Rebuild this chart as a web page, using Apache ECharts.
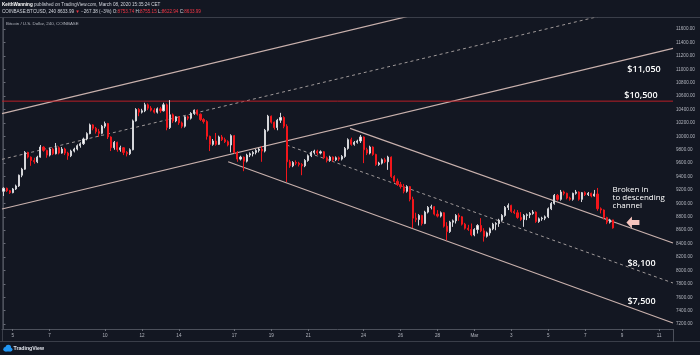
<!DOCTYPE html>
<html><head><meta charset="utf-8">
<script src="https://cdn.jsdelivr.net/npm/echarts@6/dist/echarts.min.js"></script>
<style>html,body{margin:0;padding:0;background:#131722;}#c{width:700px;height:355px;}</style>
</head><body><div id="c"></div>
<script>
// 4h candles, index 0 = Feb 4 12:00 ... index 198 = Mar 8 12:00. Rows: [open, close, low, high]
const ohlc = [
[9180,9225,9110,9240],[9225,9190,9170,9235],[9190,9160,9140,9200],
[9160,9215,9150,9230],[9215,9260,9200,9280],[9260,9420,9245,9430],[9420,9510,9390,9530],[9510,9760,9500,9780],[9760,9690,9670,9770],
[9690,9640,9560,9700],[9640,9620,9590,9680],[9620,9690,9600,9710],[9690,9840,9680,9870],[9840,9790,9770,9850],[9790,9720,9680,9800],
[9720,9810,9700,9830],[9810,9740,9720,9830],[9740,9830,9730,9900],[9830,9750,9730,9850],[9750,9810,9740,9840],[9810,9750,9720,9830],
[9750,9710,9650,9770],[9710,9780,9690,9800],[9780,9810,9760,9830],[9810,9860,9790,9880],[9860,9890,9830,9910],[9890,9960,9870,9980],
[9960,10040,9940,10060],[10040,10170,10030,10190],[10170,10120,10090,10180],[10120,10070,10040,10140],[10070,10045,9990,10110],[10045,10150,10030,10170],
[10150,10190,10120,10220],[10190,9990,9960,10200],[9990,9830,9780,10000],[9830,9910,9800,9930],[9910,9800,9770,9920],[9800,9830,9770,9860],
[9830,9760,9720,9840],[9760,9740,9700,9780],[9740,9800,9720,9820],[9800,10230,9790,10250],[10230,10400,10220,10420],[10400,10360,10300,10420],
[10360,10380,10340,10410],[10380,10470,10360,10500],[10470,10420,10390,10490],[10420,10390,10370,10450],[10390,10360,10340,10420],[10360,10410,10340,10430],
[10410,10380,10350,10440],[10380,10470,10370,10500],[10470,10130,10090,10490],[10130,10320,10110,10540],[10320,10230,10200,10340],[10230,10290,10210,10300],
[10290,10200,10170,10300],[10200,10150,10120,10220],[10150,10290,10130,10300],[10290,10270,10240,10310],[10270,10340,10250,10360],[10340,10390,10320,10400],
[10390,10330,10310,10400],[10330,10250,10230,10340],[10250,10220,10190,10270],[10220,10000,9950,10240],[10000,9880,9780,10010],[9880,9930,9860,9960],
[9930,9880,9860,10050],[9880,9990,9870,10010],[9990,9950,9930,10020],[9950,9920,9900,9980],[9920,9870,9850,9940],[9870,10010,9760,10030],
[10010,9760,9740,10020],[9760,9660,9620,9780],[9660,9690,9640,9710],[9690,9630,9480,9700],[9630,9720,9610,9740],[9720,9740,9690,9760],
[9740,9760,9700,9780],[9760,9790,9730,9810],[9790,9810,9760,9830],[9810,9780,9620,9850],[9780,10090,9760,10110],[10090,10300,10070,10320],
[10300,10210,10190,10310],[10210,10130,10100,10220],[10130,10240,10090,10260],[10240,10280,10200,10350],[10280,10150,10120,10300],[10150,9620,9320,10180],
[9620,9560,9530,9650],[9560,9610,9540,9630],[9610,9600,9570,9640],[9600,9580,9550,9620],[9580,9560,9420,9600],[9560,9640,9540,9660],
[9640,9710,9620,9730],[9710,9760,9690,9780],[9760,9780,9730,9800],[9780,9750,9720,9800],[9750,9770,9730,9790],[9770,9680,9660,9780],
[9680,9640,9610,9700],[9640,9690,9620,9710],[9690,9650,9620,9700],[9650,9680,9630,9700],[9680,9660,9630,9700],[9660,9700,9640,9720],
[9700,9820,9680,9840],[9820,9950,9800,9970],[9950,9880,9860,9980],[9880,9910,9860,9930],[9910,9930,9890,9950],[9930,9990,9900,10020],
[9990,9800,9600,10000],[9800,9750,9720,9830],[9750,9840,9730,9860],[9840,9730,9710,9850],[9730,9580,9560,9740],[9580,9600,9560,9620],
[9600,9650,9580,9670],[9650,9620,9600,9680],[9620,9690,9500,9710],[9690,9400,9380,9700],[9400,9330,9310,9420],[9330,9280,9260,9370],
[9280,9250,9220,9320],[9250,9180,9150,9290],[9180,9250,9160,9270],[9250,9060,9030,9260],[9060,8780,8630,9100],[8780,8760,8720,8860],
[8760,8820,8670,8840],[8820,8700,8670,8830],[8700,8870,8690,8890],[8870,8940,8850,8960],[8940,8950,8910,8980],[8950,8840,8820,8960],
[8840,8810,8790,8900],[8810,8860,8790,8880],[8860,8660,8640,8870],[8660,8580,8450,8720],[8580,8720,8560,8740],[8720,8740,8650,8760],
[8740,8820,8700,8840],[8820,8800,8740,8850],[8800,8690,8670,8810],[8690,8630,8610,8710],[8630,8610,8590,8680],[8610,8530,8510,8700],
[8530,8610,8510,8630],[8610,8670,8550,8690],[8670,8590,8570,8780],[8590,8510,8430,8630],[8510,8560,8490,8580],[8560,8620,8520,8640],
[8620,8690,8600,8710],[8690,8700,8600,8720],[8700,8750,8650,8770],[8750,8820,8730,8840],[8820,8940,8800,8960],[8940,8970,8900,9000],
[8970,8880,8860,8980],[8880,8860,8840,8910],[8860,8790,8770,8900],[8790,8760,8740,8870],[8760,8820,8650,8840],[8820,8830,8750,8850],
[8830,8850,8780,8870],[8850,8870,8830,8900],[8870,8730,8710,8880],[8730,8770,8710,8790],[8770,8780,8740,8800],[8780,8800,8750,8820],
[8800,8920,8780,8940],[8920,9000,8900,9020],[9000,9120,8980,9140],[9120,9060,9040,9140],[9060,9170,9040,9200],[9170,9150,9120,9190],
[9150,9080,9060,9160],[9080,9060,9040,9100],[9060,9150,9040,9160],[9150,9170,9130,9200],[9170,9060,9040,9180],[9060,9160,9020,9170],
[9160,9130,9110,9180],[9130,9150,9110,9170],[9150,9110,9090,9160],[9110,9140,9100,9200],[9140,8920,8890,9230],[8920,8901.37,8850,8940],
[8901.37,8790,8760,8910],[8790,8720,8690,8800],[8720,8753.74,8700,8770],[8753.74,8633.99,8622.94,8755.15]
];
// day ticks (candle index of 00:00) and their labels
const dayTickIdx  = [3,15,33,45,57,75,87,99,117,129,141,153,165,177,189,201,213];
const dayTickText = ['5','7','10','12','14','17','19','21','24','26','28','Mar','3','5','7','9','11'];
const yTicks = [7200,7400,7600,7800,8000,8200,8400,8600,8800,9000,9200,9400,9600,9800,10000,10200,10400,10600,10800,11000,11200,11400,11600];
// trend lines [candle index, price]
const ascTop    = [[-0.48,10339],[217.52,12735]];
const ascMid    = [[-0.48,9657],[217.52,12053]];
const ascBottom = [[-0.48,8916],[217.52,11312]];
const descTop    = [[112.6,10119],[217.52,8409]];
const descMid    = [[92.0,9870],[217.52,7813]];
const descBottom = [[73.0,9621],[217.52,7216]];
const resistance = 10524.23;
const lastPrice = 8633.99;
const countdown = '01:24:38';
const notes = [
  {text:'$11,050', at:[208.1,10999]},
  {text:'$10,500', at:[207.1,10616]},
  {text:'$8,100', at:[207.3,8107]},
  {text:'$7,500', at:[207.3,7544]}
];
const noteBlock = {text:'Broken in\nto descending\nchannel', at:[197.9,9080]};
const arrowAt = [204.5,8715];

const chart = echarts.init(document.getElementById('c'), null, {renderer:'canvas', width:700, height:355});
const candleData = ohlc.map((r,i)=>[i, r[0], r[1], r[2], r[3]]);
function tl(data, dashed){
  return {type:'line', data:data, symbol:'none', silent:true, clip:true, z:1,
    lineStyle:{color: dashed ? '#9f9999' : '#c9b1ad', width: dashed ? 1 : 1.2, type: dashed ? [3,3] : 'solid'}};
}
const AX = '#b2b5be';
chart.setOption({
  backgroundColor:'#131722',
  animation:false,
  grid:{left:2, right:27, top:18, bottom:26},
  xAxis:{type:'value', min:-0.48, max:217.52,
    axisLine:{show:true, lineStyle:{color:'#4c505b'}},
    axisTick:{show:true, customValues:dayTickIdx, length:2, lineStyle:{color:'#6a6d78'}},
    axisLabel:{customValues:dayTickIdx, formatter:v=>dayTickText[dayTickIdx.indexOf(v)], fontSize:4.6, color:AX, margin:4, fontFamily:'Liberation Sans'},
    splitLine:{show:false}},
  yAxis:{type:'value', position:'right', min:7127, max:11764, scale:true,
    axisLine:{show:true, lineStyle:{color:'#4c505b'}},
    axisTick:{show:true, customValues:yTicks, length:2, lineStyle:{color:'#6a6d78'}},
    axisLabel:{customValues:yTicks, formatter:v=>v.toFixed(2), fontSize:4.6, color:AX, margin:3, fontFamily:'Liberation Sans'},
    splitLine:{show:false}},
  series:[
    tl(ascTop,false), tl(ascMid,true), tl(ascBottom,false),
    tl(descTop,false), tl(descMid,true), tl(descBottom,false),
    {type:'line', data:[[-0.48,resistance],[217.52,resistance]], symbol:'none', silent:true, z:2,
      lineStyle:{color:'#b81e26', width:1, type:'solid'},
      markLine:{symbol:'none', silent:true, animation:false, lineStyle:{opacity:0, type:'solid'},
        data:[
          {yAxis:resistance,
            label:{show:true, position:'end', distance:0, formatter:resistance.toFixed(2), backgroundColor:'#f3161c', color:'#fff', fontSize:4.6, padding:[1,1,1,1], fontFamily:'Liberation Sans'}},
          {yAxis:lastPrice,
            label:{show:true, position:'end', distance:1, formatter:lastPrice.toFixed(2)+'\n'+countdown, backgroundColor:'#ffffff', borderColor:'#9598a1', borderWidth:0.5, color:'#3a3d46', fontSize:4.6, lineHeight:7, padding:[0,1,0,1], fontFamily:'Liberation Sans'}}
        ]}},
    {type:'candlestick', data:candleData, encode:{x:0, y:[1,2,3,4]}, barWidth:1.6, z:3,
      itemStyle:{color:'#ffffff', color0:'#f2161b', borderColor:'#d5d6da', borderColor0:'#f2161b', borderWidth:1}}
  ]
});

const toPx = p => chart.convertToPixel({xAxisIndex:0, yAxisIndex:0}, p);
const g = [];
notes.forEach(n=>{
  const p = toPx(n.at);
  g.push({type:'text', x:p[0], y:p[1], silent:true, z:10,
    style:{text:n.text, fill:'#ffffff', font:'600 9px "Open Sans"', align:'center', verticalAlign:'middle'}});
});
const nb = toPx(noteBlock.at);
g.push({type:'text', x:nb[0], y:nb[1], silent:true, z:10,
  style:{text:noteBlock.text, fill:'#ffffff', font:'8px "Open Sans"', lineHeight:7.8, align:'left', verticalAlign:'middle'}});
const ap = toPx(arrowAt);
g.push({type:'polygon', x:ap[0], y:ap[1], silent:true, z:10,
  shape:{points:[[-6.5,0],[-1,-6],[-1,-2.4],[6.5,-2.4],[6.5,2.4],[-1,2.4],[-1,6]]},
  style:{fill:'#f6c4bd'}});
// frame lines
const fr = '#3a3e49';
g.push({type:'line', silent:true, shape:{x1:0,y1:17.5,x2:700,y2:17.5}, style:{stroke:fr, lineWidth:1}});
g.push({type:'line', silent:true, shape:{x1:2.5,y1:17.5,x2:2.5,y2:342}, style:{stroke:fr, lineWidth:1}});
g.push({type:'line', silent:true, shape:{x1:0,y1:341.5,x2:700,y2:341.5}, style:{stroke:fr, lineWidth:1}});
g.push({type:'line', silent:true, shape:{x1:673.5,y1:329,x2:673.5,y2:342}, style:{stroke:'#4c505b', lineWidth:1}});
// header texts
g.push({type:'text', x:2, y:5, silent:true, style:{
  text:'{b|KeithWanning} published on TradingView.com, March 08, 2020 15:35:24 CET',
  fill:'#d1d4dc', fontSize:4.6, fontFamily:'Liberation Sans', verticalAlign:'middle',
  rich:{b:{fontWeight:'bold', fontSize:4.6, fill:'#ffffff'}}}});
g.push({type:'text', x:2, y:12, silent:true, style:{
  text:'COINBASE:BTCUSD, 240 8633.99 {r|▼} −267.38 (−3%) O:{r|8753.74} H:{r|8755.15} L:{r|8622.94} C:{r|8633.99}',
  fill:'#d1d4dc', fontSize:4.6, fontFamily:'Liberation Sans', verticalAlign:'middle',
  rich:{r:{fill:'#f23645', fontSize:4.6}}}});
g.push({type:'text', x:6, y:23.7, silent:true, style:{
  text:'Bitcoin / U.S. Dollar, 240, COINBASE', fill:'#b2b5be', fontSize:4.4, fontFamily:'Liberation Sans', verticalAlign:'middle'}});
// TradingView logo
g.push({type:'circle', silent:true, shape:{cx:5.5,cy:349.3,r:2.2}, style:{fill:'#2196f3'}});
g.push({type:'circle', silent:true, shape:{cx:8.3,cy:347.6,r:2.8}, style:{fill:'#2196f3'}});
g.push({type:'circle', silent:true, shape:{cx:10.6,cy:349.6,r:1.9}, style:{fill:'#2196f3'}});
g.push({type:'rect', silent:true, shape:{x:5.5,y:349,width:5,height:2.5}, style:{fill:'#2196f3'}});
g.push({type:'text', x:13.5, y:348.5, silent:true, style:{text:'TradingView', fill:'#e0e3eb', fontSize:5.2, fontWeight:'bold', fontFamily:'Liberation Sans', verticalAlign:'middle'}});
chart.setOption({graphic:g});
</script>
</body></html>
